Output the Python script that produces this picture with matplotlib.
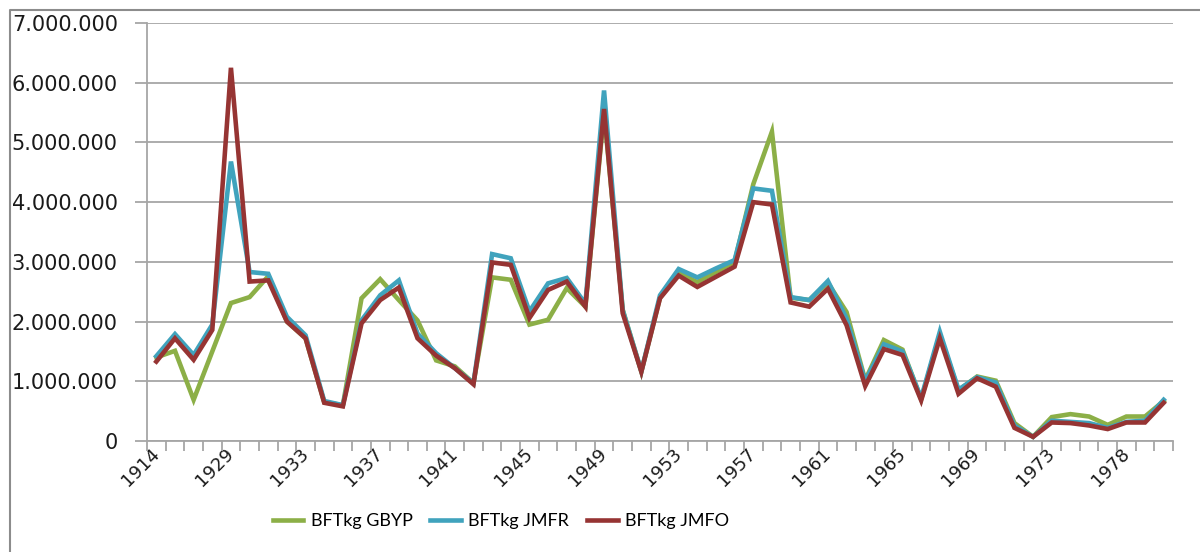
import matplotlib
matplotlib.use("Agg")
import matplotlib.pyplot as plt
from matplotlib.lines import Line2D
from matplotlib.ticker import FuncFormatter, FixedLocator
from matplotlib.transforms import ScaledTranslation

plt.rcParams["font.family"] = ["DejaVu Sans"]

years = [1914, 1926, 1927, 1928] + list(range(1929, 1974)) + [1975, 1976, 1977, 1978, 1979, 1980]

# bluefin tuna catches, kg
gbyp = [1400000, 1510000, 690000, 1500000, 2310000, 2410000, 2760000, 2000000, 1720000, 650000,
        600000, 2390000, 2710000, 2360000, 2020000, 1350000, 1250000, 970000, 2740000, 2700000,
        1950000, 2030000, 2560000, 2250000, 5500000, 2200000, 1160000, 2400000, 2820000, 2660000,
        2830000, 3000000, 4300000, 5180000, 2400000, 2360000, 2650000, 2160000, 1020000, 1690000,
        1530000, 700000, 1780000, 850000, 1080000, 1010000, 300000, 70000, 400000, 450000,
        410000, 270000, 410000, 410000, 670000]
jmfr = [1420000, 1790000, 1440000, 1950000, 4680000, 2830000, 2800000, 2080000, 1770000, 670000,
        600000, 2020000, 2440000, 2690000, 1800000, 1470000, 1220000, 970000, 3130000, 3060000,
        2170000, 2640000, 2730000, 2300000, 5870000, 2190000, 1170000, 2440000, 2880000, 2740000,
        2890000, 3030000, 4230000, 4190000, 2410000, 2360000, 2680000, 2050000, 1000000, 1620000,
        1500000, 720000, 1830000, 860000, 1070000, 980000, 260000, 70000, 340000, 320000,
        300000, 220000, 320000, 340000, 690000]
jmfo = [1330000, 1720000, 1360000, 1860000, 6250000, 2670000, 2690000, 2000000, 1720000, 640000,
        580000, 1970000, 2360000, 2570000, 1720000, 1430000, 1220000, 950000, 2990000, 2950000,
        2060000, 2530000, 2670000, 2250000, 5560000, 2140000, 1160000, 2390000, 2770000, 2580000,
        2750000, 2920000, 4000000, 3960000, 2320000, 2250000, 2550000, 1940000, 920000, 1540000,
        1440000, 680000, 1720000, 790000, 1050000, 910000, 220000, 70000, 310000, 300000,
        260000, 200000, 310000, 310000, 640000]

series_names = ["BFTkg GBYP", "BFTkg JMFR", "BFTkg JMFO"]
series_colors = ["#8CAF47", "#40A3BD", "#963433"]

grid_color = "#a6a6a6"

fig = plt.figure(figsize=(12, 5.52), dpi=100)
ax = fig.add_axes([147 / 1200, 1 - 441 / 552, (1173 - 147) / 1200, (441 - 23) / 552])

# chart frame (top and left edges)
fx, fy = 10 / 1200, 1 - 10 / 552
fig.lines.append(Line2D([fx, fx, 1.0], [0.0, fy, fy], transform=fig.transFigure,
                        color="#8c8c8c", linewidth=1.5))

x = list(range(len(years)))
for vals, name, color in zip([gbyp, jmfr, jmfo], series_names, series_colors):
    ax.plot(x, vals, color=color, linewidth=3.3, label=name,
            solid_joinstyle="miter", zorder=3)

ax.set_ylim(0, 7000000)
ax.set_xlim(-0.5, len(years) - 0.5)
ax.set_yticks(range(0, 7000001, 1000000))
ax.yaxis.set_major_formatter(FuncFormatter(lambda v, p: "{:,}".format(int(v)).replace(",", ".")))
ax.yaxis.grid(True, color=grid_color, linewidth=1.3)
ax.set_axisbelow(True)

label_pos = list(range(0, len(years), 4))
ax.set_xticks(label_pos)
ax.set_xticklabels([str(years[i]) for i in label_pos], rotation=45, ha="right",
                   va="center", rotation_mode="anchor")
shift = ScaledTranslation(-5 / 100, 0, fig.dpi_scale_trans)
for lbl in ax.get_xticklabels():
    lbl.set_transform(lbl.get_transform() + shift)
ax.xaxis.set_minor_locator(FixedLocator([i - 0.5 for i in range(len(years) + 1)]))
ax.tick_params(axis="x", which="major", length=0, pad=7, labelsize=13, labelcolor="#1a1a1a")
ax.tick_params(axis="x", which="minor", length=7, width=1.3, color=grid_color)
ax.tick_params(axis="y", length=9, width=1.3, color=grid_color, pad=12,
               labelsize=15, labelcolor="#1a1a1a")

for side in ["top", "right"]:
    ax.spines[side].set_visible(False)
for side in ["left", "bottom"]:
    ax.spines[side].set_color(grid_color)
    ax.spines[side].set_linewidth(1.3)

fig.legend(loc="center", bbox_to_anchor=(501 / 1200, 1 - 521 / 552), ncol=3,
           frameon=False, handlelength=1.7, handletextpad=0.4, columnspacing=1.0,
           prop={"family": "Lato", "size": 13})

fig.savefig("out.png", dpi=100)
